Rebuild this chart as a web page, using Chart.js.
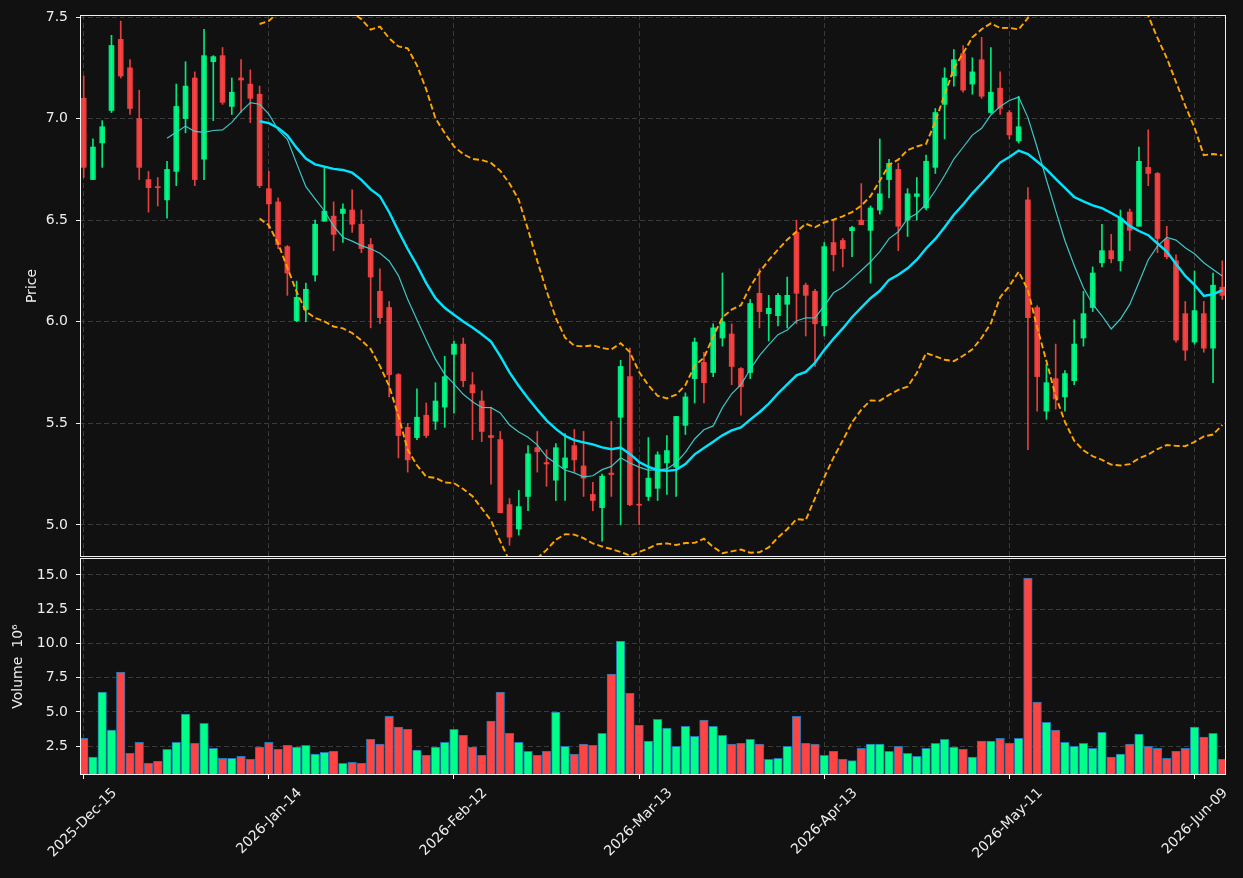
<!DOCTYPE html>
<html>
<head>
<meta charset="utf-8">
<script src="https://cdn.jsdelivr.net/npm/chart.js@4.4.1/dist/chart.umd.min.js"></script>
<style>
  html, body { margin: 0; padding: 0; background: #111111; }
  #contenedor { position: relative; width: 1243px; height: 878px; }
  #graficaPrecio { position: absolute; left: 0; top: 0; }
  #graficaVolumen { position: absolute; left: 0; top: 558px; }
</style>
</head>
<body>
<div id="contenedor">
  <canvas id="graficaPrecio" width="1243" height="558"></canvas>
  <canvas id="graficaVolumen" width="1243" height="320"></canvas>
</div>
<script>
// etiquetas del eje x (una cada 20 sesiones)
const posicionesFechas = [0, 20, 40, 60, 80, 100, 120];
const etiquetasFechas = ['2025-Dec-15', '2026-Jan-14', '2026-Feb-12', '2026-Mar-13', '2026-Apr-13', '2026-May-11', '2026-Jun-09'];

const ticksPrecio = [5.0, 5.5, 6.0, 6.5, 7.0, 7.5];
const ticksVolumen = [2.5, 5.0, 7.5, 10.0, 12.5, 15.0];

// velas
const aperturas = [
  7.10, 6.70, 6.88, 7.04, 7.39, 7.25, 7.00, 6.70, 6.665, 6.60,
  6.74, 7.00, 7.20, 6.80, 7.28, 7.31, 7.06, 7.20, 7.17, 7.12,
  6.655, 6.59, 6.37, 6.005, 6.06, 6.23, 6.495, 6.52, 6.533, 6.55,
  6.48, 6.38, 6.15, 6.07, 5.74, 5.48, 5.43, 5.54, 5.51, 5.58,
  5.84, 5.89, 5.69, 5.61, 5.44, 5.42, 5.10, 4.98, 5.14, 5.38,
  5.307, 5.22, 5.28, 5.39, 5.29, 5.15, 5.085, 5.255, 5.53, 5.73,
  5.10, 5.14, 5.18, 5.305, 5.284, 5.49, 5.72, 5.80, 5.75, 5.92,
  5.94, 5.77, 5.75, 6.14, 6.04, 6.03, 6.086, 6.44, 6.18, 6.15,
  5.98, 6.39, 6.40, 6.448, 6.50, 6.45, 6.55, 6.70, 6.75, 6.50,
  6.617, 6.56, 6.76, 7.07, 7.21, 7.32, 7.17, 7.29, 7.03, 7.15,
  7.03, 6.89, 6.60, 6.07, 5.56, 5.72, 5.63, 5.71, 5.92, 6.07,
  6.29, 6.35, 6.30, 6.54, 6.47, 6.76, 6.73, 6.405, 6.30, 6.04,
  5.90, 6.04, 5.87, 6.17
];
const maximos = [
  7.21, 6.90, 6.99, 7.41, 7.48, 7.29, 7.14, 6.74, 6.71, 6.79,
  7.17, 7.28, 7.23, 7.44, 7.31, 7.35, 7.20, 7.29, 7.24, 7.16,
  6.74, 6.61, 6.375, 6.20, 6.19, 6.50, 6.76, 6.59, 6.58, 6.65,
  6.55, 6.41, 6.26, 6.10, 5.745, 5.50, 5.67, 5.60, 5.70, 5.83,
  5.905, 5.92, 5.75, 5.66, 5.58, 5.46, 5.13, 5.17, 5.39, 5.46,
  5.37, 5.40, 5.45, 5.47, 5.46, 5.21, 5.25, 5.51, 5.81, 5.87,
  5.31, 5.43, 5.36, 5.44, 5.534, 5.65, 5.92, 5.85, 5.99, 6.24,
  5.99, 5.775, 6.11, 6.26, 6.13, 6.14, 6.22, 6.50, 6.19, 6.16,
  6.39, 6.50, 6.41, 6.47, 6.68, 6.57, 6.90, 6.80, 6.78, 6.655,
  6.71, 6.82, 7.05, 7.25, 7.34, 7.36, 7.30, 7.40, 7.35, 7.23,
  7.04, 7.11, 6.66, 6.08, 5.79, 5.89, 5.76, 6.01, 6.15, 6.27,
  6.48, 6.43, 6.55, 6.555, 6.86, 6.945, 6.735, 6.47, 6.33, 6.10,
  6.25, 6.10, 6.24, 6.30
];
const minimos = [
  6.71, 6.70, 6.76, 7.03, 7.20, 7.02, 6.70, 6.54, 6.57, 6.51,
  6.67, 6.93, 6.67, 6.70, 6.99, 7.07, 7.02, 7.03, 6.98, 6.66,
  6.46, 6.36, 6.13, 6.00, 6.00, 6.20, 6.495, 6.35, 6.39, 6.44,
  6.34, 5.97, 5.99, 5.63, 5.33, 5.26, 5.42, 5.43, 5.47, 5.48,
  5.55, 5.68, 5.42, 5.41, 5.20, 5.06, 4.90, 4.95, 5.07, 5.26,
  5.19, 5.12, 5.12, 5.26, 5.14, 5.07, 4.92, 5.14, 5.00, 5.095,
  5.00, 5.12, 5.12, 5.15, 5.14, 5.445, 5.60, 5.60, 5.73, 5.88,
  5.69, 5.54, 5.72, 5.97, 5.905, 5.98, 5.97, 5.99, 5.93, 5.78,
  5.93, 6.25, 6.27, 6.32, 6.478, 6.19, 6.53, 6.61, 6.35, 6.42,
  6.50, 6.55, 6.73, 6.90, 7.16, 7.13, 7.12, 7.10, 7.026, 7.02,
  6.90, 6.88, 5.37, 5.56, 5.52, 5.57, 5.56, 5.69, 5.88, 6.05,
  6.27, 6.29, 6.25, 6.35, 6.47, 6.67, 6.34, 6.31, 5.90, 5.81,
  5.89, 5.85, 5.70, 6.11
];
const cierres = [
  6.76, 6.86, 6.96, 7.36, 7.21, 7.05, 6.76, 6.66, 6.66, 6.75,
  7.06, 7.16, 6.70, 7.31, 7.305, 7.08, 7.13, 7.19, 7.10, 6.67,
  6.58, 6.38, 6.24, 6.12, 6.16, 6.48, 6.545, 6.43, 6.555, 6.48,
  6.36, 6.22, 6.02, 5.74, 5.44, 5.32, 5.53, 5.44, 5.61, 5.73,
  5.89, 5.71, 5.65, 5.46, 5.43, 5.06, 4.94, 5.09, 5.35, 5.36,
  5.30, 5.38, 5.33, 5.32, 5.23, 5.12, 5.24, 5.248, 5.78, 5.10,
  5.097, 5.23, 5.345, 5.366, 5.534, 5.63, 5.90, 5.70, 5.97, 6.00,
  5.78, 5.68, 6.09, 6.05, 6.066, 6.13, 6.13, 6.14, 6.13, 5.99,
  6.37, 6.33, 6.36, 6.464, 6.478, 6.56, 6.63, 6.78, 6.47, 6.63,
  6.63, 6.79, 7.03, 7.20, 7.29, 7.14, 7.23, 7.11, 7.13, 7.05,
  6.92, 6.96, 6.02, 5.73, 5.70, 5.62, 5.745, 5.89, 6.04, 6.24,
  6.35, 6.31, 6.51, 6.45, 6.79, 6.73, 6.41, 6.32, 5.91, 5.86,
  6.055, 5.87, 6.18, 6.13
];
// volumen en millones
const volumenes = [
  3.08, 1.70, 6.45, 3.67, 7.91, 1.99, 2.79, 1.26, 1.40, 2.28,
  2.79, 4.84, 2.72, 4.18, 2.35, 1.62, 1.62, 1.77, 1.55, 2.43,
  2.79, 2.28, 2.57, 2.43, 2.57, 1.92, 2.06, 2.13, 1.26, 1.33,
  1.26, 3.01, 2.65, 4.69, 3.89, 3.74, 2.21, 1.84, 2.43, 2.79,
  3.74, 3.30, 2.43, 1.84, 4.33, 6.45, 3.45, 2.79, 2.13, 1.84,
  2.13, 4.99, 2.50, 1.92, 2.65, 2.57, 3.45, 7.76, 10.18, 6.37,
  4.03, 2.87, 4.47, 3.82, 2.50, 3.96, 3.23, 4.40, 3.96, 3.30,
  2.65, 2.72, 3.01, 2.65, 1.55, 1.62, 2.50, 4.69, 2.72, 2.65,
  1.84, 2.13, 1.55, 1.45, 2.35, 2.65, 2.65, 2.13, 2.50, 1.99,
  1.77, 2.35, 2.72, 3.01, 2.43, 2.28, 1.70, 2.87, 2.87, 3.08,
  2.72, 3.08, 14.78, 5.72, 4.25, 3.67, 2.79, 2.50, 2.72, 2.35,
  3.52, 1.70, 1.92, 2.65, 3.38, 2.50, 2.35, 1.62, 2.13, 2.35,
  3.89, 3.16, 3.45, 1.55
];

const COLOR_SUBE = 'rgba(0, 255, 136, 0.9)';
const COLOR_BAJA = 'rgba(255, 68, 68, 0.9)';
const COLOR_TEXTO = '#eeeeee';
const COLOR_GRID = '#3a3a3a';
const FUENTE = { family: 'DejaVu Sans', size: 14 };

// medias moviles y bandas a partir de los cierres
function mediaMovil(datos, n) {
  return datos.map((_, i) => {
    if (i < n - 1) return null;
    let suma = 0;
    for (let k = i - n + 1; k <= i; k++) suma += datos[k];
    return suma / n;
  });
}

function desviacion(datos, n) {
  const medias = mediaMovil(datos, n);
  return datos.map((_, i) => {
    if (medias[i] === null) return null;
    let suma = 0;
    for (let k = i - n + 1; k <= i; k++) suma += (datos[k] - medias[i]) ** 2;
    return Math.sqrt(suma / (n - 1));
  });
}

const ma10 = mediaMovil(cierres, 10);
const ma20 = mediaMovil(cierres, 20);
const sd20 = desviacion(cierres, 20);
const bandaSup = ma20.map((m, i) => m === null ? null : m + 2 * sd20[i]);
const bandaInf = ma20.map((m, i) => m === null ? null : m - 2 * sd20[i]);

const puntos = arr => arr.map((v, i) => ({ x: i, y: v }));
const sube = i => cierres[i] >= aperturas[i];

// marco blanco alrededor de cada panel
const marco = {
  id: 'marco',
  afterDraw(chart) {
    const { ctx, chartArea: a } = chart;
    ctx.save();
    ctx.strokeStyle = '#f2f2f2';
    ctx.lineWidth = 1;
    ctx.strokeRect(a.left + 0.5, a.top + 0.5, a.right - a.left - 1, a.bottom - a.top - 1);
    ctx.restore();
  }
};

function ejeX(mostrarEtiquetas) {
  return {
    type: 'linear',
    min: -0.4,
    max: 123.4,
    offset: false,
    afterBuildTicks: s => { s.ticks = posicionesFechas.map(v => ({ value: v })); },
    afterFit: s => {
      s.height = mostrarEtiquetas ? 103 : 0;
      s.paddingLeft = 0; s.paddingRight = 0;
    },
    grid: {
      offset: false,
      color: COLOR_GRID,
      lineWidth: 1,
      drawTicks: mostrarEtiquetas,
      tickLength: 4,
      tickColor: '#f2f2f2',
      tickBorderDash: []
    },
    border: { display: false, dash: [5, 3] },
    ticks: {
      display: mostrarEtiquetas,
      autoSkip: false,
      minRotation: 45,
      maxRotation: 45,
      labelOffset: 31,
      padding: 6,
      color: COLOR_TEXTO,
      font: FUENTE,
      callback: v => etiquetasFechas[posicionesFechas.indexOf(v)]
    }
  };
}

function ejeY(min, max, valores, titulo, pad) {
  return {
    min: min,
    max: max,
    afterBuildTicks: s => { s.ticks = valores.map(v => ({ value: v })); },
    afterFit: s => {
      s.width = 80;
      s.paddingTop = 0; s.paddingBottom = 0;
    },
    grid: {
      color: COLOR_GRID,
      lineWidth: 1,
      tickLength: 4,
      tickColor: '#f2f2f2',
      tickBorderDash: []
    },
    border: { display: false, dash: [5, 3] },
    ticks: {
      color: COLOR_TEXTO,
      font: FUENTE,
      padding: 8,
      callback: v => v.toFixed(1)
    },
    title: {
      display: true,
      text: titulo,
      color: COLOR_TEXTO,
      font: FUENTE,
      padding: { top: pad, bottom: 0 }
    }
  };
}

new Chart(document.getElementById('graficaPrecio').getContext('2d'), {
  type: 'bar',
  data: {
    datasets: [
      {
        type: 'line', label: 'MA20', data: puntos(ma20), order: 0,
        borderColor: '#00e5ff', borderWidth: 2.4, pointRadius: 0, tension: 0
      },
      {
        type: 'line', label: 'MA10', data: puntos(ma10), order: 0,
        borderColor: 'rgba(64, 208, 208, 0.95)', borderWidth: 1.2, pointRadius: 0, tension: 0
      },
      {
        type: 'line', label: 'Banda sup', data: puntos(bandaSup), order: 0,
        borderColor: '#ffa500', borderWidth: 1.9, borderDash: [6, 3], pointRadius: 0, tension: 0
      },
      {
        type: 'line', label: 'Banda inf', data: puntos(bandaInf), order: 0,
        borderColor: '#ffa500', borderWidth: 1.9, borderDash: [6, 3], pointRadius: 0, tension: 0
      },
      {
        label: 'Cuerpo',
        data: cierres.map((c, i) => ({ x: i, y: [aperturas[i], c] })),
        backgroundColor: ctx => sube(ctx.dataIndex) ? COLOR_SUBE : COLOR_BAJA,
        barThickness: 5,
        minBarLength: 1,
        grouped: false,
        borderWidth: 0,
        order: 1
      },
      {
        label: 'Mecha',
        data: cierres.map((c, i) => ({ x: i, y: [minimos[i], maximos[i]] })),
        backgroundColor: ctx => sube(ctx.dataIndex) ? COLOR_SUBE : COLOR_BAJA,
        barThickness: 1,
        grouped: false,
        borderWidth: 0,
        order: 2
      }
    ]
  },
  options: {
    responsive: false,
    animation: false,
    layout: { padding: { top: 15, right: 17, bottom: 1, left: 0 } },
    plugins: { legend: { display: false }, tooltip: { enabled: false } },
    scales: {
      x: ejeX(false),
      y: ejeY(4.842, 7.51, ticksPrecio, 'Price', 24)
    }
  },
  plugins: [marco]
});

new Chart(document.getElementById('graficaVolumen').getContext('2d'), {
  type: 'bar',
  data: {
    datasets: [{
      label: 'Volumen',
      data: puntos(volumenes),
      backgroundColor: ctx => sube(ctx.dataIndex) ? '#00ff88' : '#ff4444',
      borderColor: '#1f77b4',
      borderWidth: 1,
      borderSkipped: 'start',
      barThickness: 8.6
    }]
  },
  options: {
    responsive: false,
    animation: false,
    layout: { padding: { top: 0, right: 17, bottom: 0, left: 0 } },
    plugins: { legend: { display: false }, tooltip: { enabled: false } },
    scales: {
      x: ejeX(true),
      y: ejeY(0.40, 16.24, ticksVolumen, 'Volume  10\u2076', 10)
    }
  },
  plugins: [marco]
});
</script>
</body>
</html>
